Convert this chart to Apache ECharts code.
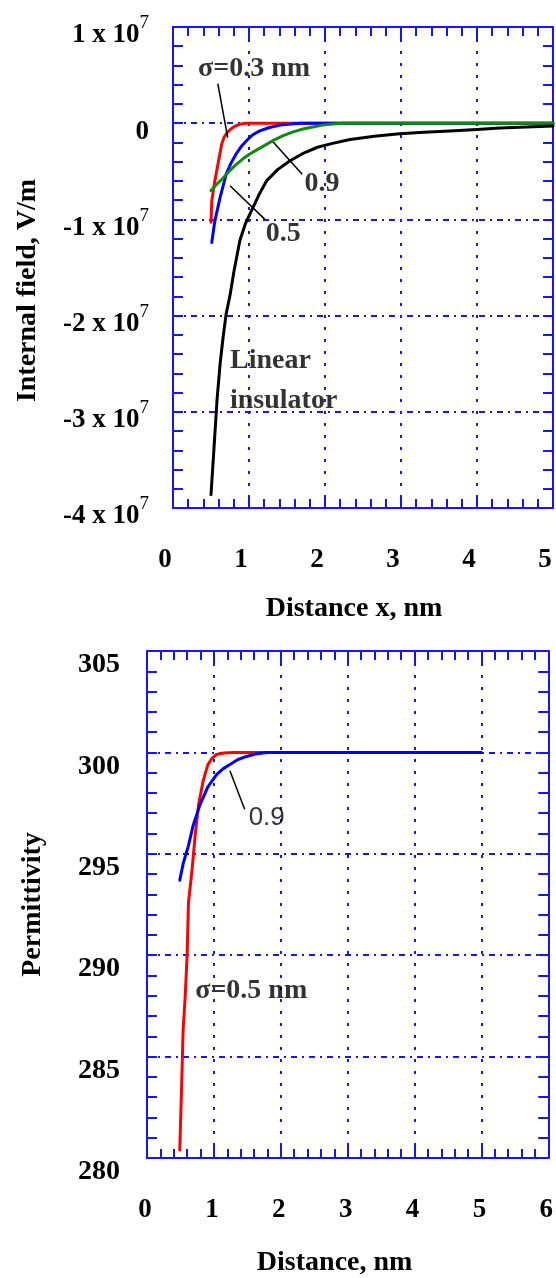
<!DOCTYPE html>
<html>
<head>
<meta charset="utf-8">
<script src="https://cdn.jsdelivr.net/npm/echarts@6/dist/echarts.min.js"></script>
<style>
html,body{margin:0;padding:0;background:#fff;}
#chart{width:556px;height:1278px;}
</style>
</head>
<body>
<div id="chart"></div>
<script>
// ---------- DATA ----------
// Top panel: internal field (V/m) vs distance x (nm)
const fieldTickValues = [1e7, 0, -1e7, -2e7, -3e7, -4e7];
const fieldTickLabels = ['1 x 10^7', '0', '-1 x 10^7', '-2 x 10^7', '-3 x 10^7', '-4 x 10^7'];
const distTickLabelsTop = ['0', '1', '2', '3', '4', '5'];

const xRed03 = [0.50, 0.51, 0.55, 0.60, 0.64, 0.67, 0.71, 0.76, 0.82, 0.88, 0.95, 1.10, 1.40, 2.00, 3.00, 4.00, 5.00];
const yRed03 = [-1.03e7, -0.81e7, -0.60e7, -0.39e7, -0.22e7, -0.15e7, -0.10e7, -0.06e7, -0.03e7, -0.01e7, 0, 0, 0, 0, 0, 0, 0];

const xBlue05 = [0.51, 0.55, 0.62, 0.70, 0.76, 0.83, 0.90, 0.97, 1.05, 1.14, 1.27, 1.41, 1.55, 1.67, 2.00, 3.00, 4.00, 5.00];
const yBlue05 = [-1.24e7, -1.02e7, -0.77e7, -0.53e7, -0.42e7, -0.32e7, -0.24e7, -0.18e7, -0.12e7, -0.08e7, -0.045e7, -0.02e7, -0.008e7, 0, 0, 0, 0, 0];

const xGreen09 = [0.50, 0.58, 0.66, 0.74, 0.83, 0.92, 1.01, 1.12, 1.23, 1.34, 1.45, 1.58, 1.71, 1.84, 1.97, 2.10, 2.24, 3.00, 4.00, 5.00];
const yGreen09 = [-0.70e7, -0.63e7, -0.57e7, -0.50e7, -0.43e7, -0.37e7, -0.32e7, -0.27e7, -0.22e7, -0.17e7, -0.13e7, -0.09e7, -0.06e7, -0.04e7, -0.02e7, -0.008e7, 0, 0, 0, 0];

const xLinear = [0.50, 0.54, 0.58, 0.62, 0.66, 0.70, 0.75, 0.80, 0.88, 0.95, 1.05, 1.14, 1.23, 1.38, 1.54, 1.72, 1.90, 2.10, 2.33, 2.65, 2.98, 3.30, 3.64, 4.00, 4.30, 4.65, 5.00];
const yLinear = [-3.86e7, -3.37e7, -2.87e7, -2.50e7, -2.22e7, -1.98e7, -1.79e7, -1.55e7, -1.22e7, -1.05e7, -0.88e7, -0.73e7, -0.60e7, -0.48e7, -0.39e7, -0.31e7, -0.25e7, -0.21e7, -0.17e7, -0.135e7, -0.11e7, -0.095e7, -0.08e7, -0.065e7, -0.05e7, -0.04e7, -0.03e7];

// Bottom panel: permittivity vs distance (nm)
const permTickLabels = ['280', '285', '290', '295', '300', '305'];
const distTickLabelsBottom = ['0', '1', '2', '3', '4', '5', '6'];

const xPermRed05 = [0.49, 0.52, 0.54, 0.57, 0.60, 0.62, 0.67, 0.72, 0.77, 0.84, 0.91, 0.97, 1.04, 1.15, 1.29, 1.80];
const yPermRed05 = [280.4, 283.8, 286.3, 287.9, 290.0, 292.6, 294.1, 295.9, 297.4, 298.6, 299.4, 299.7, 299.9, 299.97, 300.0, 300.0];

const xPermBlue09 = [0.49, 0.54, 0.62, 0.69, 0.79, 0.91, 1.04, 1.14, 1.24, 1.36, 1.49, 1.62, 1.79, 1.95, 2.28, 5.00];
const yPermBlue09 = [293.7, 294.5, 295.4, 296.4, 297.4, 298.3, 298.9, 299.2, 299.4, 299.65, 299.8, 299.92, 300.0, 300.0, 300.0, 300.0];

// Annotations (data coordinates)
const topTexts = [
  {text: 'σ=0.3 nm', x: 0.33, y: 0.57e7, pos: 'right'},
  {text: '0.5', x: 1.45, y: -1.15e7, pos: 'inside'},
  {text: '0.9', x: 1.96, y: -0.63e7, pos: 'inside'},
  {text: 'Linear', x: 0.75, y: -2.47e7, pos: 'right'},
  {text: 'insulator', x: 0.75, y: -2.89e7, pos: 'right'}
];
const topLeaders = [
  [[0.59, 0.41e7], [0.72, -0.15e7]],
  [[0.75, -0.65e7], [1.21, -1.00e7]],
  [[1.30, -0.18e7], [1.70, -0.53e7]]
];
const bottomTexts = [
  {text: '0.9', x: 1.79, y: 296.75, pos: 'inside', weight: 'normal', family: 'Liberation Sans, Arial, sans-serif', size: 26},
  {text: 'σ=0.5 nm', x: 0.72, y: 288.25, pos: 'right'}
];
const bottomLeaders = [
  [[1.24, 299.1], [1.46, 297.2]]
];

// ---------- STYLE ----------
const FONT = 'Liberation Serif, Times New Roman, serif';
const BLUE = '#1414ff';
const zip = (xs, ys) => xs.map((x, i) => [x, ys[i]]);

function xAxisPair(grid, min, max, labels, name, nameGap, labelPad, namePad) {
  const base = {
    gridIndex: grid, type: 'value', min: min, max: max, interval: 1,
    axisLine: {show: true, onZero: false, lineStyle: {color: BLUE, width: 2}},
    axisTick: {show: true, inside: true, length: 13, lineStyle: {color: BLUE, width: 2}},
    minorTick: {show: true, splitNumber: 5, length: 9, lineStyle: {color: BLUE, width: 2}},
  };
  return [
    Object.assign({}, base, {
      position: 'bottom',
      splitLine: {show: true, lineStyle: {color: BLUE, width: 2, type: [3, 9]}},
      axisLabel: {
        show: true, margin: 39, color: '#000', fontFamily: FONT, fontWeight: 'bold', fontSize: 27,
        padding: labelPad,
        formatter: v => labels[Math.round(v - min)]
      },
      name: name, nameLocation: 'middle', nameGap: nameGap,
      nameTextStyle: {color: '#000', fontFamily: FONT, fontWeight: 'bold', fontSize: 28, padding: namePad}
    }),
    Object.assign({}, base, {
      position: 'top',
      splitLine: {show: false},
      axisLabel: {show: false}
    })
  ];
}

const yBase = (grid, min, max, interval) => ({
  gridIndex: grid, type: 'value', min: min, max: max, interval: interval,
  axisLine: {show: true, onZero: false, lineStyle: {color: BLUE, width: 2}},
  axisTick: {show: true, inside: true, length: 10, lineStyle: {color: BLUE, width: 2}},
  minorTick: {show: true, splitNumber: 5, length: 10, lineStyle: {color: BLUE, width: 2}},
});

const lineSeries = (name, xi, xs, ys, color, z) => ({
  name: name, type: 'line', xAxisIndex: xi, yAxisIndex: xi, data: zip(xs, ys),
  showSymbol: false, symbol: 'none', smooth: false,
  lineStyle: {color: color, width: 3, join: 'round', cap: 'round'}, z: z, silent: true
});

const option = {
  backgroundColor: '#fff',
  animation: false,
  grid: [
    {left: 173, top: 27, width: 380, height: 481, containLabel: false},
    {left: 147, top: 651, width: 402, height: 509, containLabel: false}
  ],
  xAxis: [
    ...xAxisPair(0, 0, 5, distTickLabelsTop, 'Distance x, nm', 87, [0, 16, 0, 0], [0, 18, 0, 0]),
    ...xAxisPair(1, 0, 6, distTickLabelsBottom, 'Distance, nm', 91, [0, 4, 0, 0], [0, 26, 0, 0])
  ],
  yAxis: [
    Object.assign(yBase(0, -4e7, 1e7, 1e7), {
      position: 'left',
      splitLine: {show: true, lineStyle: {color: BLUE, width: 2, type: [6, 5, 2, 5]}},
      axisLabel: {
        show: true, margin: 24, color: '#000',
        formatter: v => {
          const t = fieldTickLabels[fieldTickValues.indexOf(Math.round(v / 1e7) * 1e7)] || '';
          const parts = t.split('^');
          return '{sp|\u200b}\n{b|' + parts[0] + '}' + (parts[1] ? '{s|' + parts[1] + '}' : '');
        },
        rich: {
          sp: {fontSize: 2, lineHeight: 9, verticalAlign: 'middle'},
          b: {fontFamily: FONT, fontWeight: 'bold', fontSize: 27, lineHeight: 35, color: '#000', verticalAlign: 'bottom'},
          s: {fontFamily: FONT, fontWeight: 'normal', fontSize: 19, lineHeight: 20, color: '#000', verticalAlign: 'top'}
        }
      },
      name: 'Internal field, V/m', nameLocation: 'middle', nameGap: 131,
      nameTextStyle: {color: '#000', fontFamily: FONT, fontWeight: 'bold', fontSize: 28, padding: [0, 46, 0, 0]}
    }),
    Object.assign(yBase(0, -4e7, 1e7, 1e7), {position: 'right', splitLine: {show: false}, axisLabel: {show: false}}),
    Object.assign(yBase(1, 280, 305, 5), {
      position: 'left',
      splitLine: {show: true, lineStyle: {color: BLUE, width: 2, type: [6, 5, 2, 5]}},
      axisLabel: {
        show: true, margin: 27, color: '#000',
        formatter: v => '{sp|\u200b}{a|' + permTickLabels[Math.round((v - 280) / 5)] + '}',
        rich: {
          sp: {fontSize: 2, lineHeight: 56, verticalAlign: 'middle'},
          a: {fontFamily: FONT, fontWeight: 'bold', fontSize: 28, lineHeight: 28, color: '#000', verticalAlign: 'bottom'}
        }
      },
      name: 'Permittivity', nameLocation: 'middle', nameGap: 100,
      nameTextStyle: {color: '#000', fontFamily: FONT, fontWeight: 'bold', fontSize: 28}
    }),
    Object.assign(yBase(1, 280, 305, 5), {position: 'right', splitLine: {show: false}, axisLabel: {show: false}})
  ],
  series: [
    lineSeries('σ=0.3 nm', 0, xRed03, yRed03, '#ff0000', 3),
    lineSeries('0.5', 0, xBlue05, yBlue05, '#0000ff', 4),
    lineSeries('0.9', 0, xGreen09, yGreen09, '#118a11', 5),
    lineSeries('Linear insulator', 0, xLinear, yLinear, '#000000', 6),
    lineSeries('σ=0.5 nm', 2, xPermRed05, yPermRed05, '#ff0000', 3),
    lineSeries('0.9 nm', 2, xPermBlue09, yPermBlue09, '#0000ff', 4),
    // annotations top
    {
      type: 'scatter', xAxisIndex: 0, yAxisIndex: 0, symbolSize: 0, silent: true, z: 10,
      data: topTexts.map(t => ({value: [t.x, t.y], label: {show: true, position: t.pos, distance: 0, formatter: t.text,
        color: '#000', fontFamily: t.family || FONT, fontWeight: t.weight || 'bold', fontSize: t.size || 28}})),
      markLine: {silent: true, symbol: 'none', label: {show: false}, lineStyle: {color: '#000', width: 1.5, type: 'solid'},
        data: topLeaders.map(l => [{coord: l[0]}, {coord: l[1]}])}
    },
    {
      type: 'scatter', xAxisIndex: 2, yAxisIndex: 2, symbolSize: 0, silent: true, z: 10,
      data: bottomTexts.map(t => ({value: [t.x, t.y], label: {show: true, position: t.pos, distance: 0, formatter: t.text,
        color: '#000', fontFamily: t.family || FONT, fontWeight: t.weight || 'bold', fontSize: t.size || 28}})),
      markLine: {silent: true, symbol: 'none', label: {show: false}, lineStyle: {color: '#000', width: 1.5, type: 'solid'},
        data: bottomLeaders.map(l => [{coord: l[0]}, {coord: l[1]}])}
    }
  ]
};

const chart = echarts.init(document.getElementById('chart'), null, {renderer: 'canvas', width: 556, height: 1278});
chart.setOption(option);
</script>
</body>
</html>
